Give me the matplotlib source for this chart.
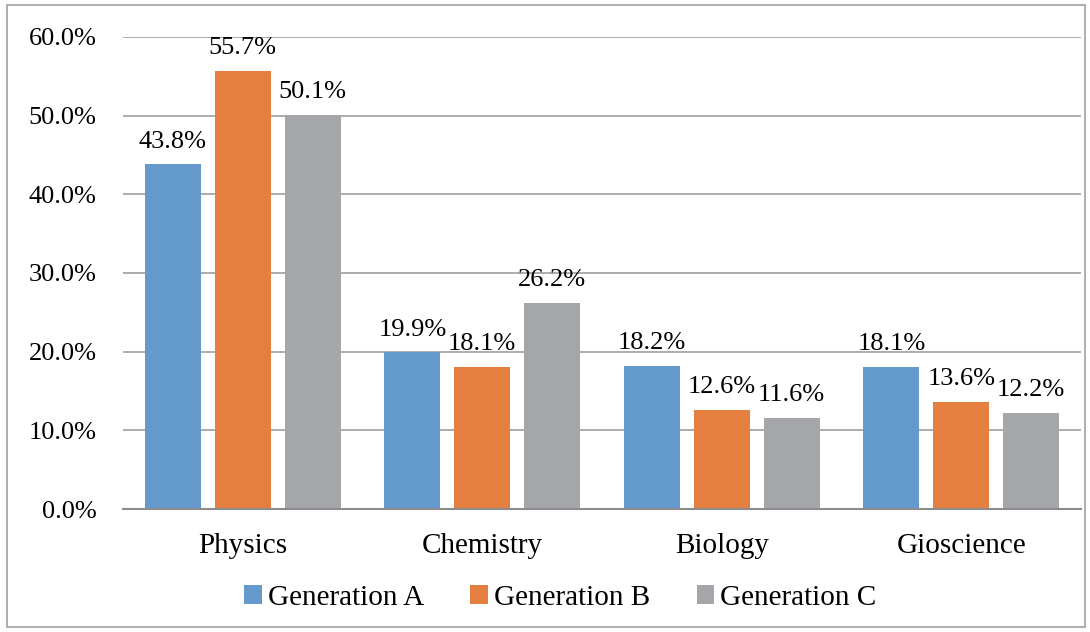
import matplotlib.pyplot as plt
import numpy as np
from matplotlib.patches import Rectangle

categories = ['Physics', 'Chemistry', 'Biology', 'Gioscience']
series_names = ['Generation A', 'Generation B', 'Generation C']
gen_a = [43.8, 19.9, 18.2, 18.1]
gen_b = [55.7, 18.1, 12.6, 13.6]
gen_c = [50.1, 26.2, 11.6, 12.2]
y_ticks = [0, 10, 20, 30, 40, 50, 60]

colors = ['#6399CB', '#E47F3F', '#A5A6A9']

plt.rcParams['font.family'] = ['Liberation Serif', 'DejaVu Serif']

fig = plt.figure(figsize=(10.9, 6.32), dpi=100)
ax = fig.add_axes([0.1128, 0.1946, 0.879, 0.7469])

x = np.arange(len(categories))
width = 0.234
offset = 0.292
for i, (vals, name) in enumerate(zip([gen_a, gen_b, gen_c], series_names)):
  bars = ax.bar(x + (i - 1) * offset, vals, width, color=colors[i], label=name, zorder=3)
  for b, v in zip(bars, vals):
    ax.annotate('%.1f%%' % v, (b.get_x() + b.get_width() / 2, v),
                xytext=(0, 12), textcoords='offset points',
                ha='center', va='baseline', fontsize=19)

ax.set_xlim(-0.5, len(categories) - 0.5)
ax.set_ylim(0, 60)
ax.set_yticks(y_ticks)
ax.set_yticklabels(['%.1f%%' % t for t in y_ticks], fontsize=19)
ax.set_xticks(x)
ax.set_xticklabels(categories, fontsize=21)
ax.tick_params(axis='both', length=0)
ax.tick_params(axis='y', pad=19)
ax.tick_params(axis='x', pad=17)
ax.yaxis.grid(True, color='#A6A6A6', linewidth=1.3, zorder=0)
for s in ['top', 'right', 'left']:
  ax.spines[s].set_visible(False)
ax.spines['bottom'].set_color('#8C8C8C')
ax.spines['bottom'].set_linewidth(1.5)
ax.spines['bottom'].set_zorder(4)

fig.legend(loc='center', bbox_to_anchor=(0.514, 0.054), ncol=3, frameon=False,
           fontsize=21, handlelength=0.6, handleheight=0.6, handletextpad=0.2,
           columnspacing=1.6)

fig.patches.append(Rectangle((0.006, 0.008), 0.989, 0.984, transform=fig.transFigure,
                             fill=False, edgecolor='#A0A0A0', linewidth=1.2))

fig.savefig('out.png', dpi=100)
